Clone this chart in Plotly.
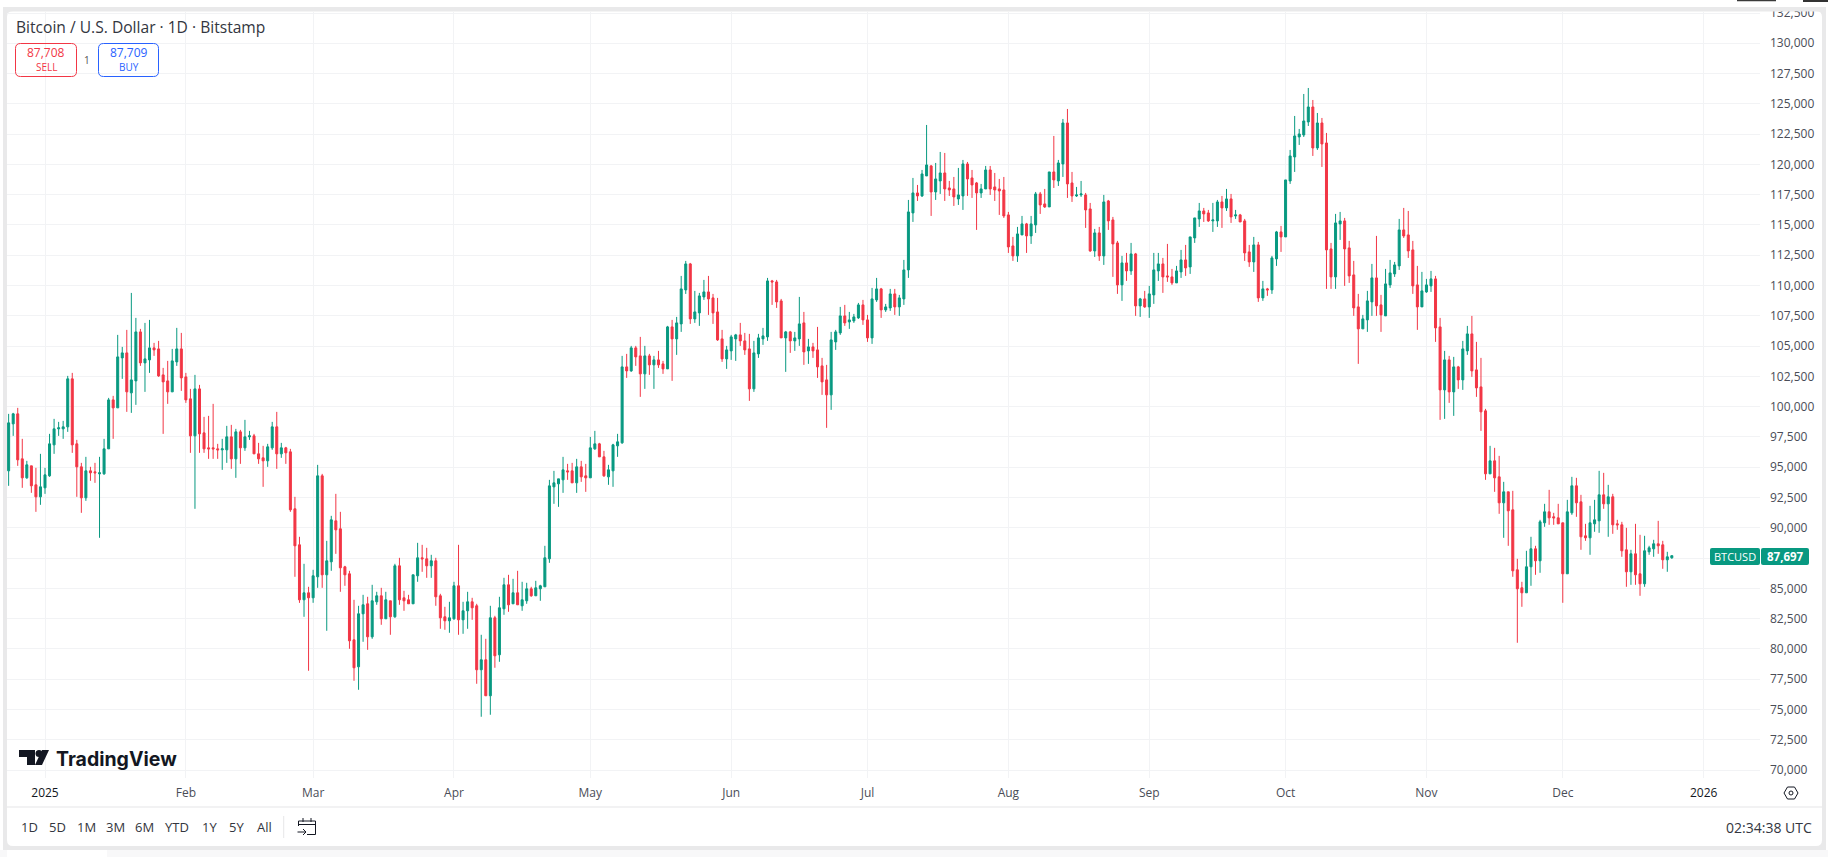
import pandas as pd
import plotly.graph_objects as go

FIRST_DAY = "2024-12-24"

opens = [
94700,98579,99404,95690,94122,95112,93544,92554,93297,94287,
96845,98166,98166,98331,102293,96928,95030,92471,94700,94617,
94452,94452,96515,100559,99899,104026,104438,101137,102127,106171,
103613,103861,104851,104768,102623,102127,101220,103696,104768,102457,
100642,97588,101467,97836,96598,96598,96515,96433,96433,97506,
95690,97918,96598,97506,97588,96103,95773,95525,96598,98331,
96103,96598,96268,91564,88593,84052,84630,84217,85950,94286,
86115,87188,90572,89912,86775,86198,80751,78523,82896,83722,
80998,83887,84382,82484,83969,82649,86858,84217,84052,83722,
86033,87518,87436,86858,87271,84382,82649,82319,82484,85208,
82401,83144,83887,83557,78275,79100,76129,82566,79513,83309,
85290,83722,84630,83557,83969,84960,84382,84960,85125,87436,
93378,93625,93956,94698,94698,93708,95028,94286,94121,96514,
96927,95854,94204,94700,96763,97011,103283,102953,104851,104191,
102706,104191,103449,103861,103531,103118,106584,105594,106832,109638,
111784,107245,107740,109060,109473,108978,107822,105594,103944,104604,
105594,105924,105429,104769,101468,104356,105594,105759,110381,110298,
108730,105677,106172,105429,105594,106915,104604,104934,104686,103366,
102210,100972,105347,106089,107492,106997,107080,107327,108400,107162,
105677,108813,109721,107988,108152,109308,108235,108895,111290,115994,
117645,117397,119048,119873,117727,118635,119295,118057,117975,117150,
117397,120038,118883,118470,117645,117975,119543,118140,117975,117892,
115829,113270,112445,114178,115086,114096,115004,117562,116737,116489,
119378,118635,120038,123422,118470,117397,117480,117480,116324,112858,
114343,112445,116984,115416,113518,110052,111867,111207,112610,108319,
108897,108236,109226,111207,111785,110795,110712,110217,111125,112115,
111538,113931,115499,116159,115994,115334,115334,116902,116407,117150,
115747,115829,115334,112775,111950,113353,108979,109722,109639,112198,
114426,114013,118635,120616,122266,122432,123504,124742,121359,123422,
121771,113023,110712,115086,115334,113106,110877,108237,106421,107163,
108649,110630,108402,107493,110052,110960,111620,114591,114178,112941,
110052,108237,109474,109969,110548,106584,101384,103860,101219,103282,
102210,104603,106006,103035,101632,99651,94452,95525,94204,92058,
92966,91481,86529,85043,84631,86776,88262,87272,90408,91316,
90903,90820,90408,86199,91233,93462,92141,89335,89170,90325,
90573,92719,91976,92554,90325,90243,88179,86364,87849,86199,
85373,88015,88262,88675,88592,87354,87519,
]

highs = [
99404,99487,99899,97341,95525,95112,94947,96103,94947,97753,
98991,98744,98826,102540,102788,97258,95360,95855,95030,95360,
95855,97341,100724,100890,105924,104933,106337,109390,107327,106419,
106914,107162,105264,105429,103200,103778,104768,106502,106089,102788,
101467,102623,101797,99156,99239,100229,96928,97341,98414,98496,
98166,98083,98909,98001,97753,97010,96763,96928,98744,99569,
97010,96680,96515,92554,89253,87023,85125,86528,95194,94451,
88921,90985,92800,91315,86858,86445,84052,83557,84464,84300,
85290,84712,85042,84712,83969,87023,87518,84795,84464,86115,
88756,88591,88344,87766,87518,84547,83474,83887,85538,88591,
83887,84712,84217,83722,81164,80833,83557,82731,84300,85868,
86115,85785,86445,85538,85455,85125,85620,85290,88509,93956,
94698,94038,95854,95276,95359,95689,95524,95276,97504,98000,
97009,96349,95195,96929,97754,104191,104356,105016,105016,105759,
105016,104356,104191,104604,103778,106667,107162,107410,110794,112032,
111867,109556,109391,110464,110794,109308,108978,106337,105016,105924,
106007,106915,106089,106007,105429,106007,106502,110629,110464,110464,
108895,106254,106254,106172,109060,107822,105594,105264,106584,104026,
103449,106172,106337,108235,108400,107822,107657,108565,108813,107575,
109803,110629,109803,108483,109721,109721,109225,112114,117067,118883,
118305,119543,123257,119956,120121,121028,120946,118635,118965,119708,
120368,120203,119543,118552,118387,119873,119873,119295,118800,118965,
116077,114013,114839,115746,115169,115746,117727,117727,117975,119378,
122349,120368,123752,124577,119378,118140,118635,117645,116819,114674,
114839,117480,117067,115664,113683,112445,112693,113518,112693,108979,
109557,109969,112693,112693,112280,113436,111372,111620,112940,113353,
114013,115581,116819,116407,116242,116820,117067,117397,117975,117562,
116242,115912,115499,113353,114013,113600,110382,109804,112445,114509,
114921,118718,121194,124000,122927,125815,126310,125320,124247,123835,
122597,113518,115912,116076,115582,113683,112033,109309,107576,109557,
111785,114096,109227,111373,112115,111950,115499,116407,116159,113683,
111620,111125,110548,111207,110795,107326,104603,104190,104108,103365,
105428,106666,107491,105346,104025,99816,96763,96598,95937,93792,
92966,93049,87437,85539,88097,89253,88510,90655,91976,93131,
91233,91976,90408,92306,94204,94122,92719,90325,91811,92306,
94699,94534,93544,92801,90655,90490,89995,88179,90325,89418,
89335,88510,89005,90573,88922,88015,87697,
]

lows = [
93462,97588,95112,93297,94040,92884,91316,91894,92802,94205,
96103,97588,97341,97918,96185,92554,91233,92224,93875,93710,
89170,94369,96515,97341,99899,102293,99569,99487,100147,103365,
101220,102788,104191,102457,97753,100229,101220,103365,101302,100312,
96185,91564,96185,96185,95690,95690,95690,94782,95360,94865,
94122,95277,96350,97258,96103,95277,93379,95030,96433,94865,
95773,95277,91316,85952,83800,82649,78192,83804,85042,85042,
81494,86445,87848,84712,85207,80008,77367,76624,80586,79925,
80833,83639,81989,82484,81164,82566,83639,83144,83722,83722,
85538,86363,85867,85867,83557,81659,81576,81329,82401,81164,
81246,81659,82401,77119,74396,76129,74561,78440,78935,82814,
83061,83722,83639,83144,83722,84300,84382,83969,85125,87106,
91975,91727,92883,93956,93708,92883,93790,92965,94121,96431,
95854,94203,93545,93380,95855,96929,102375,102871,103366,100807,
101468,102623,101468,103201,102706,103118,102128,104274,106172,109308,
106832,106915,106667,108813,107575,106832,105429,103696,103118,103861,
103778,105016,104274,100477,101220,104026,105099,105429,108400,108153,
105677,102871,104439,104604,105016,103449,103531,104026,102375,100972,
98249,99735,104686,105924,106667,106420,106915,107245,106750,105347,
105182,108648,107327,107822,107905,107575,107492,108400,110630,115251,
116984,117315,119048,115746,117067,117562,116984,117397,116572,116654,
116242,117397,117232,114591,117232,117975,117480,116984,115829,115581,
112693,112033,111950,114178,112693,113436,114343,115911,116407,116489,
118057,118222,118965,117232,116902,117315,117315,114756,112775,112363,
112033,111702,114591,110712,109309,108732,110382,110877,107493,107411,
108154,107328,108484,110382,109392,110300,110052,110217,110630,110795,
110960,113518,114839,115251,115251,114426,114839,114756,116159,115169,
115499,115251,112033,111538,111125,108649,108732,109144,109309,111620,
112775,114013,118388,119378,121606,122266,123174,120698,121194,119791,
109722,109722,109722,113766,109969,110218,107493,103532,106421,106173,
107493,107493,106173,107493,109804,110712,111290,113931,112280,109309,
106338,108237,109392,109474,105346,98908,98991,100311,99239,101467,
101384,104273,102457,100806,97999,93957,94452,92966,91151,89170,
88509,85951,80504,83475,84631,85208,86116,86281,90078,90243,
90243,90325,83805,86199,91068,90903,88180,88922,87767,89665,
89583,91563,89253,89500,89830,87602,85126,85291,85291,84383,
85126,87767,87602,87849,86612,86364,87437,
]

closes = [
98661,99404,95608,94122,95195,93462,92554,93379,94369,96928,
98166,98249,98331,102293,96845,95030,92471,94700,94535,94535,
94535,96515,100559,99899,104108,104438,101220,102210,106171,103613,
103943,104851,104686,102540,102045,101220,103778,104768,102375,100559,
97588,101467,97753,96515,96515,96515,96433,96515,97506,95690,
97918,96598,97506,97588,96103,95690,95525,96680,98331,96103,
96598,96185,91481,88510,84052,84630,84217,86033,94286,86115,
87271,90654,89829,86693,86115,80668,78440,82896,83639,80998,
83969,84382,82484,84052,82649,86858,84052,83969,83722,86115,
87518,87436,86858,87271,84300,82566,82319,82566,85208,82401,
83144,83887,83392,78275,79100,76129,82566,79430,83392,85290,
83639,84630,83639,84052,84960,84382,85042,85208,87518,93460,
93708,94038,94781,94616,93708,95028,94203,94121,96597,96927,
95854,94286,94783,96846,97094,103283,102953,104851,104109,102706,
104191,103449,103861,103449,103118,106584,105594,106915,109721,111784,
107245,107822,109143,109473,108895,107740,105512,103944,104686,105759,
105924,105429,104686,101468,104439,105677,105842,110381,110298,108648,
105677,106172,105429,105677,106832,104521,104934,104604,103283,102045,
100972,105512,106172,107492,106915,107162,107410,108400,107162,105677,
108895,109721,107988,108235,109308,108235,108978,111289,116077,117645,
117397,119213,119956,117727,118800,119295,117975,117892,117315,117480,
120038,118800,118305,117645,117975,119543,117975,117892,117810,115746,
113188,112445,114261,115086,114096,115086,117562,116654,116489,119378,
118718,120121,123422,118388,117397,117480,117562,116242,112858,114343,
112445,116902,115334,113436,110052,111867,111207,112610,108319,108897,
108236,109309,111290,111785,110712,110712,110217,111207,112115,111455,
114013,115581,116159,115912,115334,115416,116902,116407,117150,115664,
115829,115251,112693,111950,113353,108979,109722,109639,112280,114426,
114013,118718,120698,122349,122514,123587,124742,121359,123422,121689,
112941,110712,115169,115334,113023,110795,108154,106421,107246,108732,
110630,108319,107576,110135,111042,111702,114591,114096,112858,109969,
108237,109557,110052,110548,106503,101384,103860,101219,103282,102210,
104768,106006,102952,101549,99569,94452,95525,94121,92058,92966,
91398,86446,84960,84631,86776,88262,87272,90490,91316,90820,
90820,90325,86199,91316,93462,92058,89253,89170,90408,90655,
92719,91976,92554,90243,90243,88097,86364,87849,86116,85373,
88097,88345,88675,88510,87354,87601,87697,
]

month_ticks = ["2025-01-01","2025-02-01","2025-03-01","2025-04-01","2025-05-01","2025-06-01",
               "2025-07-01","2025-08-01","2025-09-01","2025-10-01","2025-11-01","2025-12-01","2026-01-01"]
month_labels = ["2025","Feb","Mar","Apr","May","Jun","Jul","Aug","Sep","Oct","Nov","Dec","2026"]
price_ticks = list(range(70000, 132501, 2500))
# 87,500 sits behind the last-price tag in the reference, so its label is blank
price_labels = ["" if p == 87500 else f"{p:,}" for p in price_ticks]
range_buttons = ["1D","5D","1M","3M","6M","YTD","1Y","5Y","All"]
range_button_centers = [29,57,86.5,115,144,177,209,236.5,264]
instrument_title = "Bitcoin / U.S. Dollar · 1D · Bitstamp"

GREEN = "#089981"
RED = "#f23645"
GRID = "#f2f3f5"
BAND = "#e9e9ea"
INK = "#131722"
FONT = "'Open Sans', sans-serif"

L, R, T, B = 7, 1760, 12, 778
W, H = 1828, 857
px = lambda x: (x - L) / (R - L)
py = lambda y: (B - y) / (B - T)


def rrect(x0, y0, x1, y1, r):
    a, b, c, d = px(x0), py(y0), px(x1), py(y1)
    rx, ry = r / (R - L), r / (B - T)
    return (f"M{a+rx},{b} L{c-rx},{b} Q{c},{b} {c},{b-ry} L{c},{d+ry} Q{c},{d} {c-rx},{d} "
            f"L{a+rx},{d} Q{a},{d} {a},{d+ry} L{a},{b-ry} Q{a},{b} {a+rx},{b} Z")


def poly(points):
    return "M" + " L".join(f"{px(x)},{py(y)}" for x, y in points) + " Z"


def line(points):
    return "M" + " L".join(f"{px(x)},{py(y)}" for x, y in points)


def shape_path(path, fill="rgba(0,0,0,0)", color="rgba(0,0,0,0)", width=0, layer="above"):
    return dict(type="path", xref="paper", yref="paper", path=path, fillcolor=fill,
                line=dict(color=color, width=width), layer=layer)


def shape_rect(x0, y0, x1, y1, fill, layer="above"):
    return dict(type="rect", xref="paper", yref="paper", x0=px(x0), x1=px(x1), y0=py(y0), y1=py(y1),
                fillcolor=fill, line=dict(width=0), layer=layer)


def text(x, y, s, size=12, color=INK, anchor="center", family=FONT):
    return dict(xref="paper", yref="paper", x=px(x), y=py(y), text=s, showarrow=False,
                xanchor=anchor, yanchor="middle", font=dict(size=size, color=color, family=family),
                borderpad=0, borderwidth=0)


dates = pd.date_range(FIRST_DAY, periods=len(opens), freq="D")

fig = go.Figure(go.Candlestick(
    x=dates, open=opens, high=highs, low=lows, close=closes,
    increasing=dict(line=dict(color=GREEN, width=1), fillcolor=GREEN),
    decreasing=dict(line=dict(color=RED, width=1), fillcolor=RED),
    whiskerwidth=0, hoverinfo="skip", showlegend=False,
))

shapes = [
    # page frame
    shape_rect(3, 7, 1826, 850, BAND, layer="below"),
    shape_path(rrect(7, 11, 1822, 846, 6), fill="#ffffff", layer="below"),
    # top strip that clips the topmost price label
    shape_rect(0, 0, W, 7, "#ffffff"),
    shape_rect(3, 7, 1826, 11.5, BAND),
    shape_rect(0, 850, W, H, "#f8f8f9"),
    shape_rect(7, 850, 107, H, "#ffffff"),
    shape_rect(1737, 0, 1776, 1.2, "#3a3a3a"),
    shape_rect(1803, 0, W, 2, "#333333"),
    # axis / toolbar separator
    shape_rect(7, 806.6, 1822, 807.6, "#e6e6e8"),
    shape_rect(283.2, 816, 284.2, 838, "#e6e6e8"),
    # BUY / SELL boxes
    shape_path(rrect(15.5, 43.5, 76.5, 76.5, 5), color=RED, width=1),
    shape_path(rrect(98.5, 43.5, 158.5, 76.5, 5), color="#2962ff", width=1),
    # price tag
    shape_path(rrect(1710, 548, 1760, 565, 2), fill=GREEN),
    shape_path(rrect(1761, 548, 1809, 565, 2), fill=GREEN),
    # TradingView mark
    shape_path(poly([(19,750),(35,750),(35,765),(27,765),(27,757),(19,757)]), fill=INK),
    dict(type="circle", xref="paper", yref="paper", x0=px(35.5), x1=px(42.5), y0=py(750), y1=py(757),
         fillcolor=INK, line=dict(width=0), layer="above"),
    shape_path(poly([(42,750),(49,750),(42,765),(35,765)]), fill=INK),
    # calendar icon
    shape_path(line([(298.5,821),(315.5,821),(315.5,834.5),(307,834.5)]), color=INK, width=1),
    shape_path(line([(298.5,821),(298.5,826)]), color=INK, width=1),
    shape_path(line([(298.5,824.5),(315.5,824.5)]), color=INK, width=1),
    shape_path(line([(303,818),(303,822)]), color=INK, width=1),
    shape_path(line([(311,818),(311,822)]), color=INK, width=1),
    shape_path(line([(297.5,832),(306,832)]), color=INK, width=1),
    shape_path(line([(303,829),(306,832),(303,835)]), color=INK, width=1),
    # settings hexagon
    shape_path(poly([(1784,793),(1787.5,787),(1794.5,787),(1798,793),(1794.5,799),(1787.5,799)]), color=INK, width=1),
    dict(type="circle", xref="paper", yref="paper", x0=px(1789), x1=px(1793), y0=py(791), y1=py(795),
         line=dict(color=INK, width=1), layer="above"),
]

annotations = [
    text(16, 27, instrument_title, size=15.6, color="#333640", anchor="left"),
    text(46, 52.5, "87,708", size=12, color=RED),
    text(46, 67, "SELL", size=10, color=RED),
    text(128.5, 52.5, "87,709", size=12, color="#2962ff"),
    text(128.5, 67, "BUY", size=10, color="#2962ff"),
    text(87, 60, "1", size=10, color="#555"),
    text(1735, 556.5, "BTCUSD", size=11, color="#ffffff"),
    text(1785, 556, "<b>87,697</b>", size=11.5, color="#ffffff"),
    text(56, 758.5, "<b>TradingView</b>", size=19.5, color=INK, anchor="left", family="Inter, sans-serif"),
    text(1812, 827, "02:34:38 UTC", size=14, color="#333640", anchor="right"),
]
for c, s in zip(range_button_centers, range_buttons):
    annotations.append(text(c, 827, s, size=13, color="#333640"))

ticktext = [f'<span style="color:#131722">{t}</span>' if t.isdigit() else t for t in month_labels]

fig.update_layout(
    width=W, height=H,
    margin=dict(l=L, r=W - R, t=T, b=H - B, pad=0),
    paper_bgcolor="#ffffff", plot_bgcolor="rgba(0,0,0,0)",
    font=dict(family=FONT, size=12, color="#333640"),
    boxgap=0.56, boxgroupgap=0,
    shapes=shapes, annotations=annotations,
    xaxis=dict(
        type="date", range=["2024-12-23 15:20", "2026-01-13 09:36"], automargin=False,
        rangeslider=dict(visible=False),
        tickmode="array", tickvals=month_ticks, ticktext=ticktext,
        showgrid=True, gridcolor=GRID, gridwidth=1, zeroline=False, showline=False,
        ticks="", tickfont=dict(size=12, color="#4a4d57", family=FONT), ticklabelstandoff=6,
    ),
    yaxis=dict(
        side="right", range=[69340, 132583], automargin=False,
        tickmode="array", tickvals=price_ticks, ticktext=price_labels,
        showgrid=True, gridcolor=GRID, gridwidth=1, zeroline=False, showline=False,
        ticks="", tickfont=dict(size=12, color="#4a4d57", family=FONT), ticklabelstandoff=9,
    ),
)

fig.write_html(
    "out.html",
    config={"displayModeBar": False},
    post_script="document.body.style.margin='0';document.documentElement.style.overflow='hidden';",
)
